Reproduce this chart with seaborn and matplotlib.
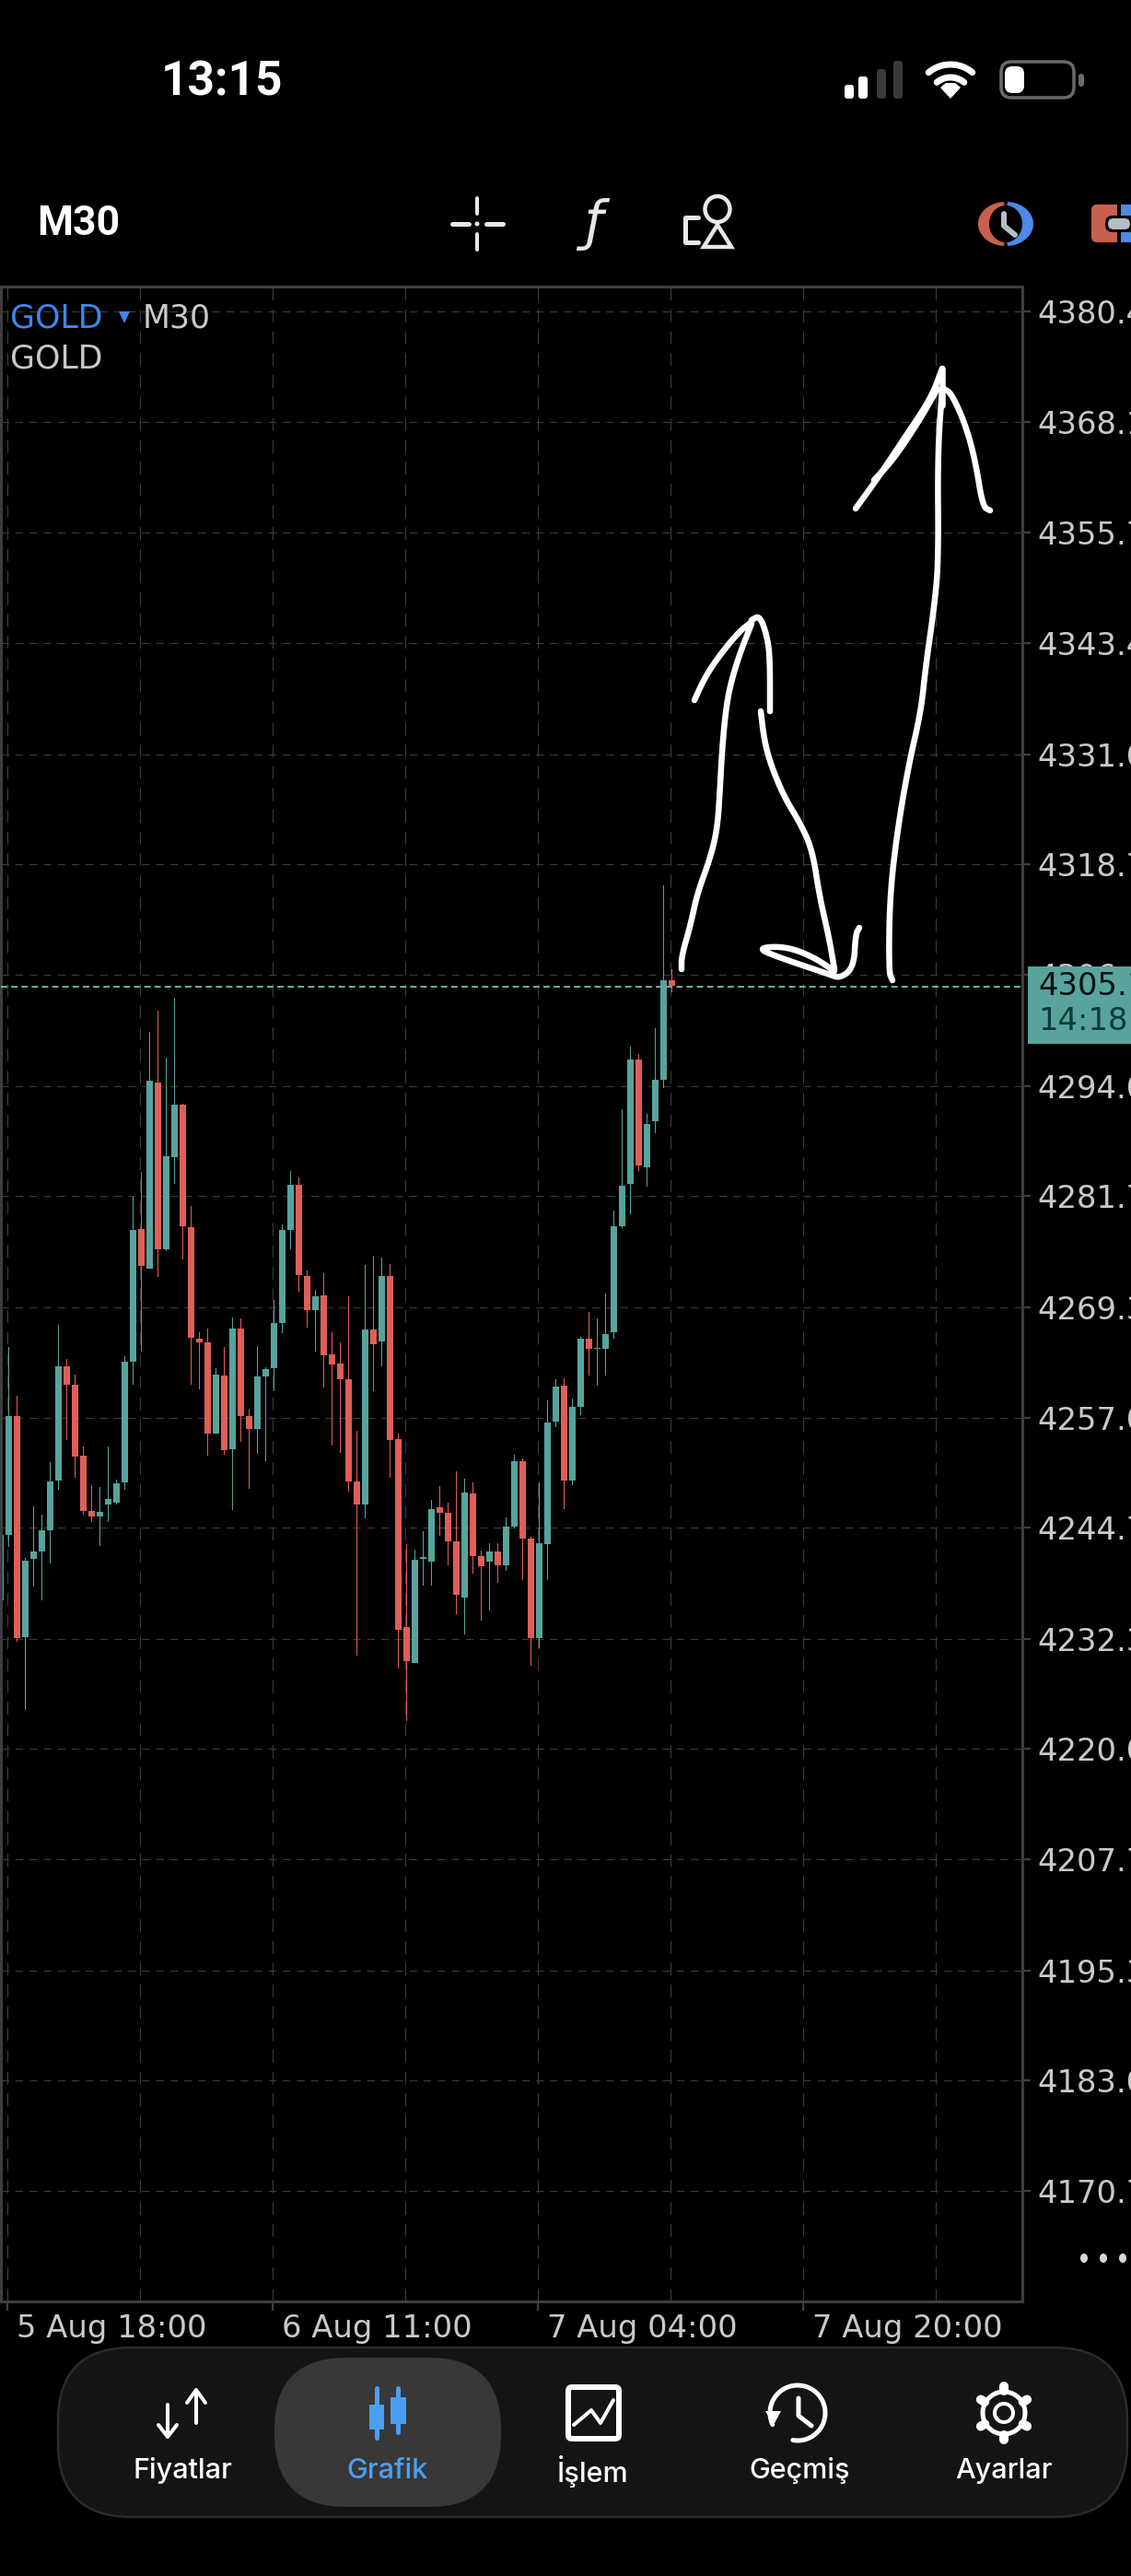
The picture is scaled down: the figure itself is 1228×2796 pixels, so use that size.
import numpy as np
import pandas as pd
import seaborn as sns
import matplotlib.pyplot as plt
from matplotlib.patches import FancyBboxPatch, Rectangle, Circle, Ellipse, Polygon
from matplotlib.transforms import ScaledTranslation

# Candles (GOLD M30)
opens = [4236.6, 4243.9, 4257.2, 4232.5, 4241.2, 4242.0, 4244.4, 4250.0, 4262.7, 4260.6,
         4252.7, 4246.6, 4246.0, 4247.3, 4247.5, 4249.8, 4263.2, 4278.0, 4273.6, 4294.4,
         4275.8, 4286.0, 4291.9, 4278.2, 4265.8, 4265.4, 4255.2, 4261.7, 4253.5, 4266.9,
         4257.2, 4255.7, 4261.6, 4262.5, 4267.5, 4277.9, 4283.0, 4272.8, 4269.0, 4270.6,
         4264.0, 4263.0, 4261.3, 4249.9, 4247.3, 4266.8, 4265.5, 4272.8, 4254.6, 4233.6,
         4229.6, 4241.2, 4240.9, 4247.0, 4246.4, 4243.2, 4236.9, 4248.5, 4241.5, 4240.9,
         4242.0, 4240.5, 4244.8, 4252.1, 4243.5, 4232.4, 4242.9, 4256.5, 4260.5, 4250.0,
         4258.2, 4265.8, 4264.7, 4264.7, 4266.5, 4278.3, 4283.1, 4296.9, 4284.9, 4290.0,
         4294.7, 4305.8]
highs = [4243.9, 4264.9, 4259.4, 4241.3, 4247.1, 4246.2, 4252.0, 4267.3, 4263.5, 4261.8,
         4253.8, 4249.4, 4249.2, 4253.8, 4250.1, 4263.8, 4281.6, 4284.4, 4300.0, 4302.4,
         4297.1, 4303.8, 4292.0, 4280.6, 4266.5, 4266.9, 4262.5, 4264.9, 4268.2, 4268.1,
         4257.9, 4265.0, 4262.6, 4270.1, 4278.5, 4284.5, 4283.8, 4273.4, 4271.2, 4273.1,
         4266.5, 4265.4, 4270.5, 4255.5, 4274.0, 4275.0, 4274.8, 4274.1, 4255.2, 4242.9,
         4242.2, 4244.3, 4247.8, 4249.3, 4247.5, 4251.0, 4250.2, 4249.8, 4242.1, 4243.0,
         4243.0, 4245.8, 4252.8, 4252.4, 4243.7, 4249.8, 4258.9, 4261.3, 4261.4, 4259.1,
         4266.0, 4268.8, 4268.1, 4270.8, 4280.1, 4291.4, 4298.4, 4297.6, 4290.9, 4300.4,
         4316.4, 4307.0]
lows = [4236.6, 4242.6, 4232.0, 4224.4, 4238.1, 4236.6, 4240.7, 4248.9, 4254.5, 4250.3,
        4246.2, 4245.3, 4242.7, 4245.3, 4247.3, 4248.9, 4260.7, 4264.3, 4273.6, 4272.7,
        4275.6, 4283.1, 4274.6, 4260.6, 4260.1, 4252.7, 4255.2, 4252.8, 4246.7, 4254.3,
        4249.0, 4252.9, 4252.1, 4259.9, 4266.4, 4275.8, 4271.0, 4267.0, 4264.4, 4260.3,
        4253.9, 4253.0, 4248.7, 4230.4, 4245.7, 4259.9, 4262.7, 4250.3, 4229.0, 4223.1,
        4229.6, 4238.2, 4238.2, 4243.8, 4240.5, 4235.1, 4232.8, 4239.6, 4234.3, 4235.5,
        4238.6, 4239.9, 4244.6, 4238.9, 4229.3, 4231.2, 4238.9, 4255.9, 4246.8, 4249.4,
        4257.3, 4261.7, 4260.5, 4261.7, 4265.8, 4278.1, 4279.7, 4284.5, 4282.7, 4288.7,
        4293.8, 4304.4]
closes = [4243.9, 4257.2, 4232.4, 4241.0, 4242.0, 4244.4, 4249.9, 4262.7, 4260.6, 4252.6,
          4246.6, 4246.0, 4246.5, 4247.9, 4249.7, 4263.2, 4277.9, 4273.9, 4294.6, 4275.8,
          4286.1, 4291.9, 4278.3, 4265.9, 4265.4, 4255.2, 4261.8, 4253.4, 4266.9, 4257.2,
          4255.7, 4261.6, 4262.4, 4267.5, 4277.9, 4283.0, 4272.9, 4269.0, 4270.5, 4263.9,
          4262.9, 4261.3, 4249.9, 4247.3, 4266.8, 4265.2, 4272.8, 4254.5, 4233.3, 4229.8,
          4241.1, 4241.4, 4246.8, 4246.4, 4243.2, 4237.2, 4248.6, 4241.5, 4240.4, 4242.0,
          4240.5, 4244.8, 4252.1, 4243.5, 4232.4, 4243.0, 4256.4, 4260.4, 4250.0, 4258.2,
          4265.8, 4264.7, 4264.8, 4266.3, 4278.3, 4282.9, 4296.9, 4285.1, 4289.7, 4294.7,
          4305.8, 4305.2]

price_ticks = [4380.4, 4368.1, 4355.7, 4343.4, 4331.0, 4318.7, 4306.4, 4294.0, 4281.7,
               4269.3, 4257.0, 4244.7, 4232.3, 4220.0, 4207.7, 4195.3, 4183.0, 4170.7]
last_price = 4305.1
countdown = '14:18'
time_labels = ['5 Aug 18:00', '6 Aug 11:00', '7 Aug 04:00', '7 Aug 20:00']
time_ticks = [0.89, 32.89, 64.89, 96.89]
time_minor = [16.89, 48.89, 80.89, 112.89]
nav_labels = ['Fiyatlar', 'Grafik', 'İşlem', 'Geçmiş', 'Ayarlar']

# Hand drawn arrows on top of the chart, in screen pixels
arrow_strokes = [
    [(740, 1052), (740, 1038), (750, 1003), (757, 970), (771, 932), (779, 899), (782, 852),
     (784, 814), (788, 771), (793, 743), (803, 710), (816, 677)],
    [(816, 675), (801, 687), (777, 717), (764, 738), (754, 760)],
    [(816, 673), (825, 668), (833, 691), (836, 715), (836, 772)],
    [(826, 772), (830, 805), (838, 833), (852, 866), (868, 892), (882, 922), (890, 974),
     (900, 1017), (906, 1052)],
    [(906, 1054), (882, 1038), (852, 1027), (821, 1029), (848, 1040), (899, 1057),
     (912, 1062), (927, 1050), (929, 1014), (933, 1007)],
    [(969, 1064), (965, 1055), (966, 974), (974, 904), (986, 833), (1000, 772), (1005, 724),
     (1015, 654), (1019, 606), (1018, 493), (1023, 422)],
    [(1023, 400), (1011, 432), (983, 474), (953, 519), (929, 552)],
    [(1023, 400), (1023, 440)],
    [(1018, 422), (996, 460), (969, 500), (949, 521)],
    [(1025, 422), (1033, 427), (1048, 460), (1059, 500), (1067, 550), (1075, 554)],
]

TEAL = '#58a49c'
RED = '#df5f58'
BLUE = '#3f86ee'
NAV_BLUE = '#4a9ff5'
GRID = '#3c3c3c'
FRAME = '#3e3e3e'
LABEL = '#c9c9c9'
W, H = 1228, 2796

sns.set_theme(style='dark', rc={
    'figure.facecolor': 'black', 'axes.facecolor': 'black', 'savefig.facecolor': 'black',
    'axes.edgecolor': FRAME, 'axes.linewidth': 2.2, 'lines.scale_dashes': False,
    'text.color': LABEL, 'xtick.color': LABEL, 'ytick.color': LABEL,
})
plt.rcParams['font.family'] = ['DejaVu Sans']

df = pd.DataFrame({'bar': range(len(opens)), 'open': opens, 'high': highs, 'low': lows, 'close': closes})
df['body_low'] = df[['open', 'close']].min(axis=1)
df['body'] = (df['close'] - df['open']).abs()
df['wick'] = df['high'] - df['low']
df['up'] = df['close'] >= df['open']

fig = plt.figure(figsize=(W / 100, H / 100), dpi=100)
ax = fig.add_axes([1 / W, 1 - 2498 / H, 1109 / W, 2187 / H])

# wicks then bodies, one call per colour
for is_up, color in [(True, TEAL), (False, RED)]:
    part = df[df['up'] == is_up]
    sns.barplot(data=part, x='bar', y='wick', bottom=part['low'], native_scale=True, orient='x',
                color=color, saturation=1, width=0.14, errorbar=None, linewidth=0, ax=ax)
    sns.barplot(data=part, x='bar', y='body', bottom=part['body_low'], native_scale=True, orient='x',
                color=color, saturation=1, width=0.78, errorbar=None, linewidth=0, ax=ax)

ax.set_xlim(0.074, 123.3)
ax.set_ylim(4158.37, 4383.18)
ax.set_xlabel('')
ax.set_ylabel('')
ax.set_axisbelow(True)

ax.yaxis.tick_right()
ax.set_yticks(price_ticks)
ax.set_yticklabels([f'{p:.1f}' for p in price_ticks])
ax.tick_params(axis='y', length=6.5, width=1.6, color=FRAME, labelsize=24.3, pad=5, left=False, right=True)
ax.yaxis.grid(True, color=GRID, linewidth=0.8, linestyle=(0, (6, 5)))

ax.set_xticks(time_ticks)
ax.set_xticklabels(time_labels, ha='left')
ax.set_xticks(time_minor, minor=True)
ax.tick_params(axis='x', which='major', length=7, width=1.6, color=FRAME, labelsize=24.3, pad=2, bottom=True)
ax.tick_params(axis='x', which='minor', length=0)
ax.xaxis.grid(True, which='both', color=GRID, linewidth=0.8, linestyle=(0, (10, 7)))
shift = ScaledTranslation(10 / 100, 0, fig.dpi_scale_trans)
for lab in ax.get_xticklabels():
    lab.set_transform(lab.get_transform() + shift)

ax.axhline(last_price, color='#62b5aa', linewidth=1.4, linestyle=(0, (5, 3)), zorder=3)

# everything else is phone UI, drawn in screen pixels
ui = fig.add_axes([0, 0, 1, 1])
ui.set_xlim(0, W)
ui.set_ylim(H, 0)
ui.axis('off')
ui.patch.set_alpha(0)


def stroke(pts, color='white', px=5.0, **kw):
    xs, ys = zip(*pts)
    ui.plot(xs, ys, color=color, linewidth=px * 0.72, solid_capstyle='round',
            solid_joinstyle='round', **kw)


def smooth(pts, rounds=3):
    # corner cutting so the finger strokes do not look like polylines
    p = np.array(pts, dtype=float)
    for _ in range(rounds):
        q = 0.75 * p[:-1] + 0.25 * p[1:]
        r = 0.25 * p[:-1] + 0.75 * p[1:]
        mid = np.empty((len(q) * 2, 2))
        mid[0::2], mid[1::2] = q, r
        p = np.vstack([p[0], mid, p[-1]])
    return p


def box(x, y, w, h, r, face, edge='none', px=0.0):
    ui.add_patch(FancyBboxPatch((x, y), w, h, boxstyle=f'round,pad=0,rounding_size={r}',
                                facecolor=face, edgecolor=edge, linewidth=px * 0.72))


def arc(cx, cy, rx, ry, a0, a1, color, px):
    # angles clockwise from 12 o'clock
    t = np.radians(np.linspace(a0, a1, 60))
    stroke(list(zip(cx + rx * np.sin(t), cy - ry * np.cos(t))), color, px)


def crescent(cx, cy, out, inner, a0, a1, color):
    t = np.radians(np.linspace(a0, a1, 60))
    outer_pts = np.c_[cx + out[0] * np.sin(t), cy - out[1] * np.cos(t)]
    inner_pts = np.c_[cx + inner[0] * np.sin(t[::-1]), cy - inner[1] * np.cos(t[::-1])]
    ui.add_patch(Polygon(np.vstack([outer_pts, inner_pts]), facecolor=color, edgecolor='none'))


for s in arrow_strokes:
    stroke(smooth(s), 'white', 6.5)

# price tag
ui.add_patch(Rectangle((1116, 1049), 112, 84, facecolor=TEAL, edgecolor='none'))
ui.text(1127, 1070, f'{last_price:.1f}', color='#07120f', fontsize=24.3, va='center', ha='left')
ui.text(1127, 1109, countdown, color='#0e3b36', fontsize=24.3, va='center', ha='left')

# chart header
ui.text(11, 345, 'GOLD', color=BLUE, fontsize=25, va='center', ha='left')
ui.add_patch(Polygon([(129, 338), (141, 338), (135, 351)], facecolor=BLUE, edgecolor='none'))
ui.text(155, 345, 'M30', color=LABEL, fontsize=25, va='center', ha='left')
ui.text(11, 389, 'GOLD', color=LABEL, fontsize=25, va='center', ha='left')

# status bar
ui.text(241, 90, '13:15', color='white', fontsize=37, fontweight='bold', family='Roboto', va='center', ha='center')
for x, top, c in [(922, 92, 'white'), (937, 83, 'white'), (957, 75, '#3a3a3a'), (975, 66, '#3a3a3a')]:
    box(x - 5, top, 10, 107 - top, 3, c)
arc(1032, 107, 37, 37, -40, 40, 'white', 7)
arc(1032, 107, 23, 23, -40, 40, 'white', 7)
ui.add_patch(Polygon([(1032, 107), (1021, 95), (1027, 90), (1037, 90), (1043, 95)], facecolor='white', edgecolor='none'))
box(1087, 67, 79, 39, 11, 'none', '#6a6a6a', 3.5)
box(1091, 72, 21, 29, 8, 'white')
box(1171, 80, 6, 14, 3, '#6a6a6a')

# toolbar
ui.text(40, 243, 'M30', color='white', fontsize=32, fontweight='bold', family='Roboto', va='center', ha='left')
ICON = '#e8e8e8'
stroke([(518, 215), (518, 232)], ICON, 4)
stroke([(518, 254), (518, 271)], ICON, 4)
stroke([(491, 243), (509, 243)], ICON, 5)
stroke([(528, 243), (546, 243)], ICON, 5)
ui.add_patch(Circle((518, 243), 2.5, facecolor=ICON, edgecolor='none'))
ui.text(644, 244, 'ƒ', color=ICON, fontsize=42, style='italic', va='center', ha='center')
ui.add_patch(Ellipse((779, 227), 27, 28, facecolor='none', edgecolor=ICON, linewidth=3.2))
ui.add_patch(Polygon([(779, 244), (764, 268), (794, 268)], closed=True, facecolor='none', edgecolor=ICON, linewidth=3.2))
stroke([(758, 236), (744, 236), (744, 263), (758, 263)], ICON, 5)
crescent(1092, 243, (30, 24), (18, 20), 184, 356, '#c95f4e')
crescent(1092, 243, (30, 24), (18, 20), 4, 176, '#4f88e8')
stroke([(1090, 232), (1090, 245), (1102, 255)], '#b4bec4', 6)
box(1185, 222, 60, 41, 6, '#c95f4e')
ui.add_patch(Rectangle((1213, 220), 4, 45, facecolor='black', edgecolor='none'))
ui.add_patch(Rectangle((1217, 222), 11, 41, facecolor='#4f88e8', edgecolor='none'))
box(1200, 234, 40, 18, 8, 'black')
box(1203, 237, 24, 12, 6, '#b4bec4')

# the three dots under the price axis
for x in [1177, 1198, 1219]:
    ui.add_patch(Ellipse((x, 2451), 8, 10, facecolor='#d8d8d8', edgecolor='none'))

# bottom navigation
box(63, 2548, 1161, 184, 80, '#141414', '#2b2b2b', 2.5)
box(298, 2559, 246, 162, 78, '#383838')
nav_x = [198, 421, 644, 868, 1090]
for name, x in zip(nav_labels, nav_x):
    c = NAV_BLUE if name == 'Grafik' else 'white'
    ui.text(x, 2682, name, color=c, fontsize=22, family='Inter', fontweight='medium', va='center', ha='center')

stroke([(182, 2610), (182, 2642)], 'white', 4)
stroke([(172, 2632), (182, 2645), (192, 2632)], 'white', 4)
stroke([(213, 2596), (213, 2630)], 'white', 4)
stroke([(203, 2608), (213, 2594), (223, 2608)], 'white', 4)

stroke([(409, 2592), (409, 2646)], NAV_BLUE, 5)
box(401, 2610, 16, 27, 1, NAV_BLUE)
stroke([(432, 2592), (432, 2640)], NAV_BLUE, 5)
box(424, 2602, 17, 29, 1, NAV_BLUE)
box(430, 2608, 5, 17, 0.5, '#383838')

box(617, 2591, 55, 56, 4, 'none', 'white', 6)
stroke([(623, 2632), (642, 2616), (652, 2630), (666, 2605)], 'white', 4)

arc(866, 2619, 30, 30, -115, 190, 'white', 5)
ui.add_patch(Polygon([(831, 2617), (848, 2617), (840, 2632)], facecolor='white', edgecolor='none'))
stroke([(867, 2603), (867, 2622), (881, 2633)], 'white', 5)

arc(1090, 2619, 23, 23, 0, 360, 'white', 5)
arc(1090, 2619, 10, 10, 0, 360, 'white', 4)
for a in np.radians(np.arange(0, 360, 60)):
    stroke([(1090 + 24 * np.sin(a), 2619 - 24 * np.cos(a)), (1090 + 29 * np.sin(a), 2619 - 29 * np.cos(a))], 'white', 10)

fig.savefig('out.png', dpi=100)
